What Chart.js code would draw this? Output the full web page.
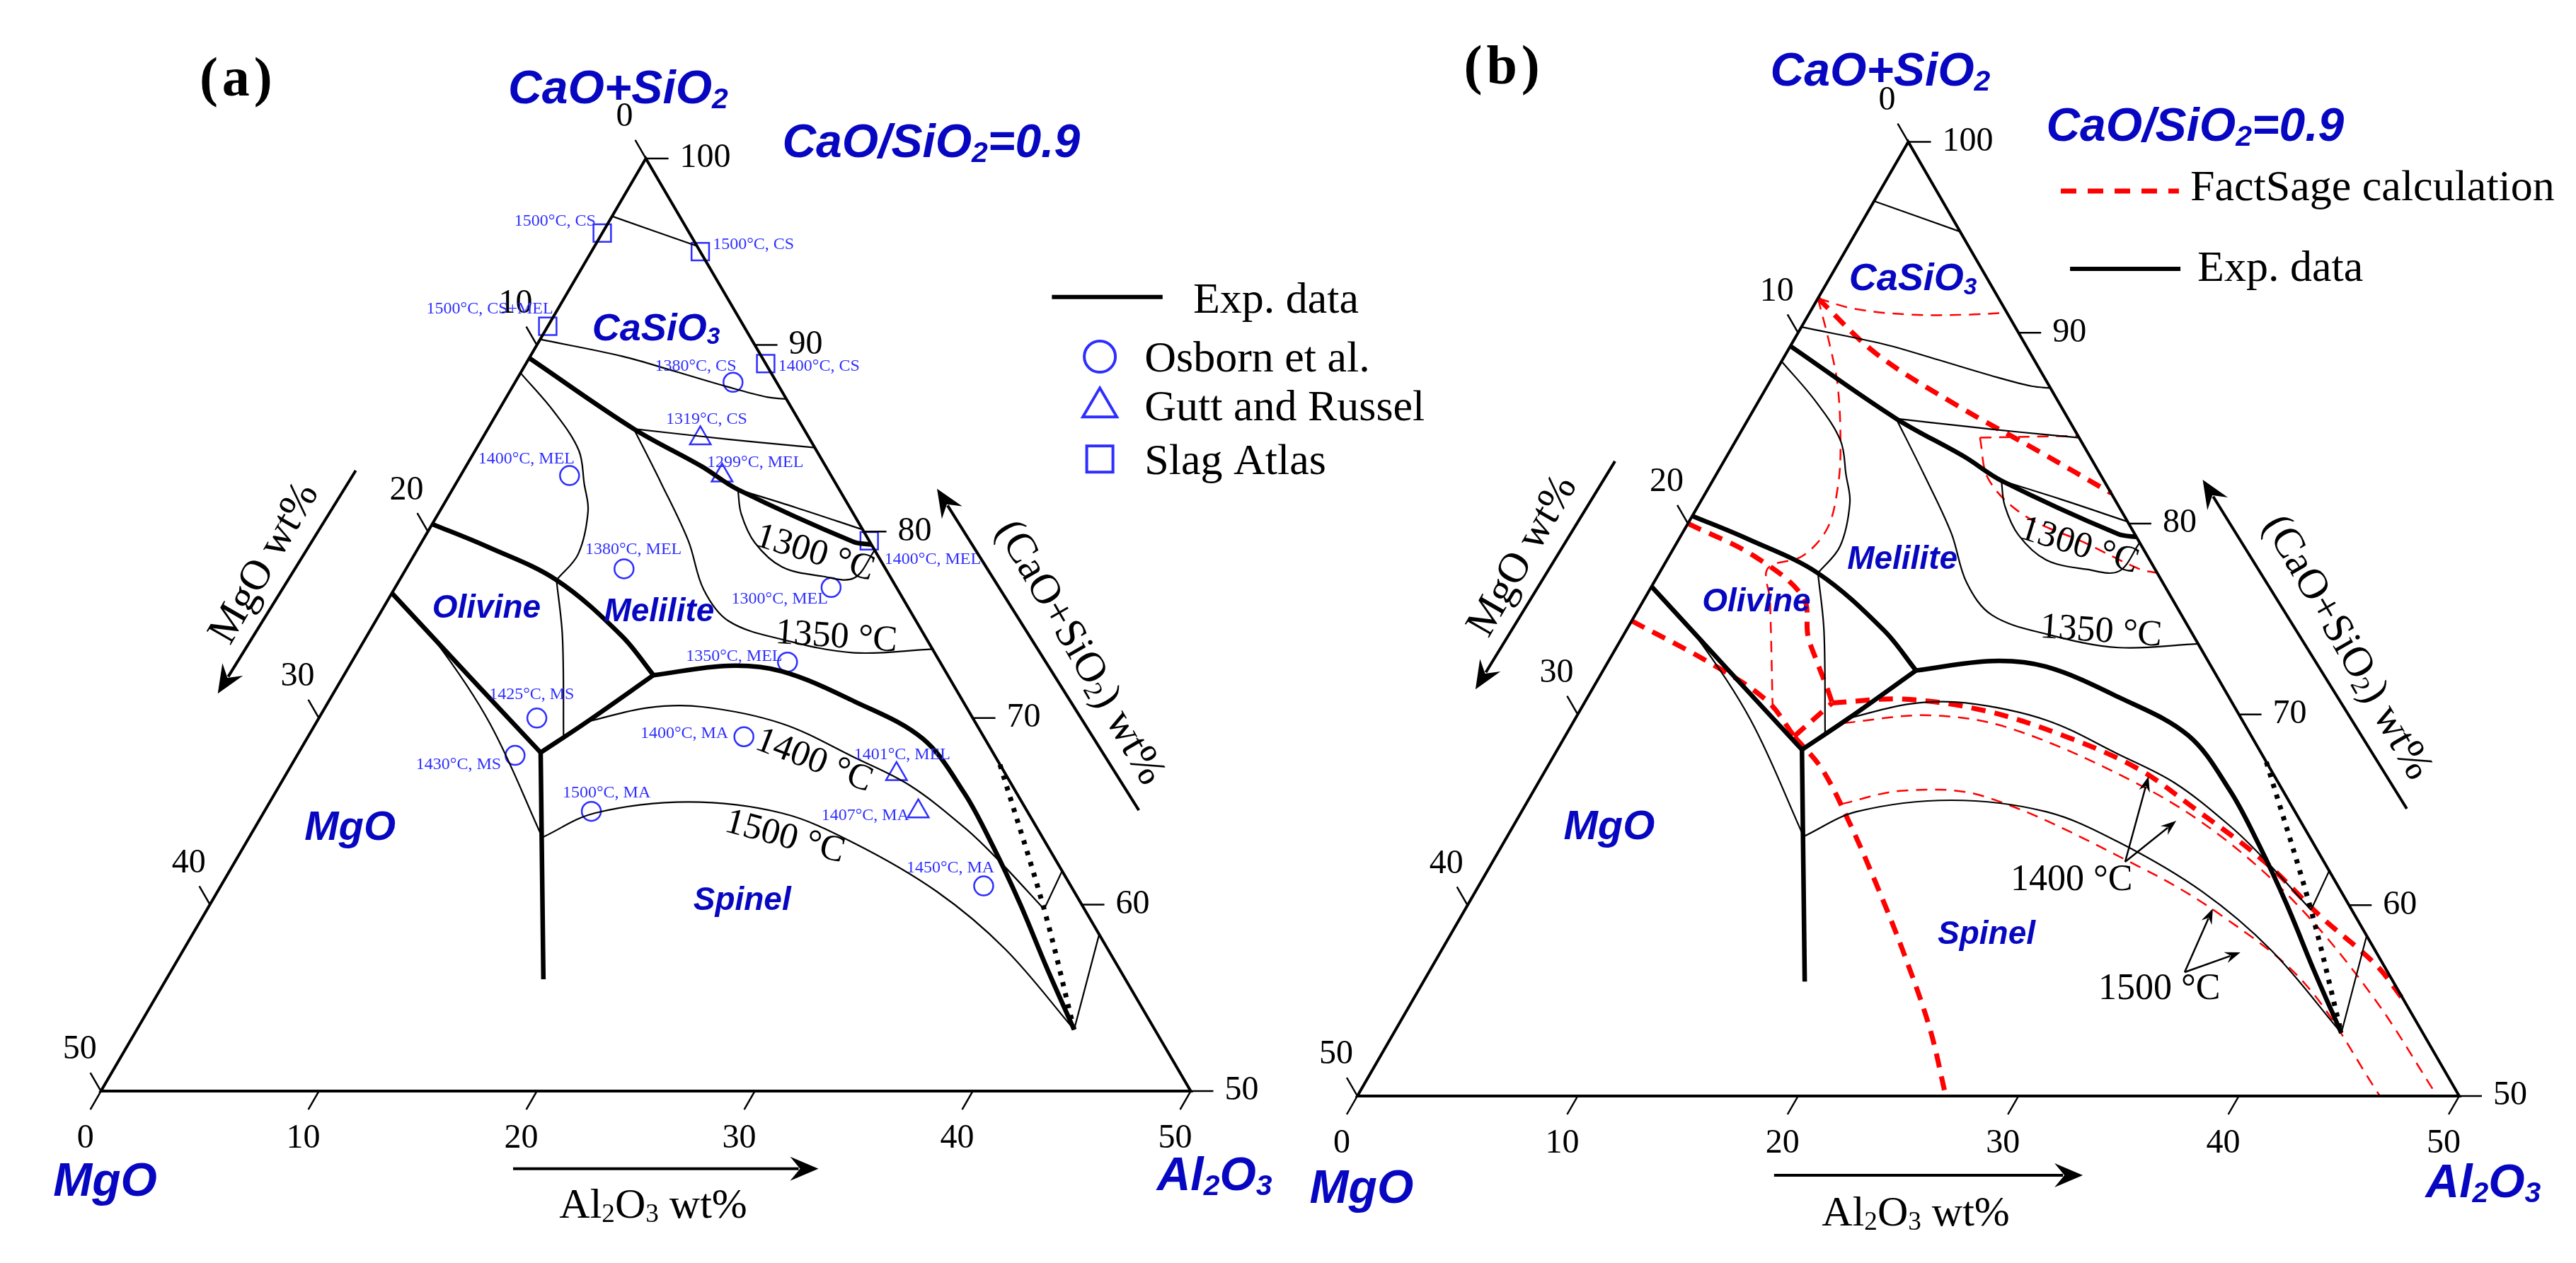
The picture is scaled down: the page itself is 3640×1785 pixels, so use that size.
<!DOCTYPE html>
<html>
<head>
<meta charset="utf-8">
<title>CaO-SiO2-MgO-Al2O3 liquidus, CaO/SiO2 = 0.9</title>
<script src="https://cdn.jsdelivr.net/npm/chart.js"></script>
<style>
  html, body { margin: 0; padding: 0; background: #fff; }
  #wrap { position: relative; width: 3640px; height: 1785px; }
  #wrap canvas { position: absolute; left: 0; top: 0; display: block; }
</style>
</head>
<body>
<div id="wrap">
  <canvas id="chartA" width="3640" height="1785"></canvas>
  <canvas id="chartB" width="3640" height="1785"></canvas>
</div>
<script>
// every point is [Al2O3 wt%, MgO wt%]; the rest is CaO+SiO2 (CaO/SiO2 = 0.9)
const sideTicks = [0, 10, 20, 30, 40, 50];
const rightTicks = [100, 90, 80, 70, 60, 50];

// experimental field boundaries (thick)
const csMel = [[0, 10.7], [6.7, 7.8], [10.8, 5.7], [13.1, 4.65], [19.8, 0.75], [20.7, 0]];
const olMel = [[0, 19.6], [3.1, 17.7], [7.2, 15.4], [11.7, 13.9], [14.2, 13.5]];
const olMgo = [[0, 23.3], [5.7, 22.0], [11.1, 20.75]];
const olSp = [[11.1, 20.75], [12.4, 17.8], [14.2, 13.5]];
const mgoSp = [[11.1, 20.75], [17.3, 26.7]];
const melSp = [[14.2, 13.5], [17.4, 9.8], [20.0, 7.5], [24.1, 5.0], [28.25, 2.85], [31.6, 2.4],
               [34.25, 2.5], [37.1, 2.8], [40.1, 3.3], [43.0, 3.7]];

// experimental isotherms and minor lines (thin)
const iso1500cs = [[0, 3.1], [4.7, 0]];
const iso1400cs = [[0, 9.7], [4.2, 6.4], [7.0, 4.4], [9.9, 2.35], [12.0, 0.8], [12.9, 0]];
const iso1319 = [[6.7, 7.8], [10.0, 4.9], [12.6, 2.6], [15.5, 0]];
const csEdge = [[13.1, 4.65], [16.2, 2.5], [19.9, 0]];
const iso1300 = [[13.1, 4.65], [13.9, 5.15], [15.3, 5.3], [17.2, 4.7], [19.3, 3.1], [20.8, 1.7], [21.0, 0]];
const iso1350 = [[6.7, 7.8], [9.4, 8.0], [12.2, 8.3], [14.2, 8.9], [16.2, 8.6], [19.2, 6.6], [22.8, 3.7], [26.3, 0]];
const iso1400mel = [[0, 11.5], [2.6, 11.0], [4.75, 10.9], [5.9, 11.55], [6.8, 12.1], [7.5, 13.7], [7.2, 15.4]];
const iso1400ol = [[7.2, 15.4], [9.0, 16.65], [11.75, 19.3]];
const isoMs = [[0, 23.3], [3.2, 22.6], [8.0, 22.3], [13.45, 22.95]];
const iso1500ma = [[13.45, 22.95], [15.2, 19.9], [19.2, 15.3], [23.8, 11.3], [27.9, 8.8], [33.0, 6.3], [37.7, 4.7], [43.0, 3.7]];
const iso1400ma = [[12.4, 17.8], [14.8, 14.65], [17.3, 12.1], [21.4, 8.9], [25.6, 6.5], [28.9, 4.7], [32.6, 3.3], [34.9, 2.65], [38.4, 1.85]];
const quadA = [[38.4, 1.85], [38.2, 0]];
const quadB = [[43.0, 3.7], [41.6, 0]];
const dottedExp = [[32.5, 0], [38.4, 1.85], [43.0, 3.7]];

// measured liquidus points
const osbornPts = [[10, 2], [5, 12], [10, 12], [20, 3], [20, 7], [10, 20], [10, 22], [20, 11], [15, 20], [35, 4]];
const osbornTxt = ['1380°C, CS', '1400°C, MEL', '1380°C, MEL', '1300°C, MEL', '1350°C, MEL',
                   '1425°C, MS', '1430°C, MS', '1400°C, MA', '1500°C, MA', '1450°C, MA'];
const guttPts = [[10, 5], [12, 5], [28, 5], [30, 5]];
const guttTxt = ['1319°C, CS', '1299°C, MEL', '1401°C, MEL', '1407°C, MA'];
const atlasPts = [[0, 4], [5, 0], [0, 9], [11, 0], [20.5, 0]];
const atlasTxt = ['1500°C, CS', '1500°C, CS', '1500°C, CS+MEL', '1400°C, CS', '1400°C, MEL'];

// FactSage calculation (panel b)
const fsCsMel = [[0, 8.2], [4.1, 7.0], [9.1, 4.7], [14.0, 2.2], [18.4, 0]];
const fsOlMel = [[0, 20], [3.85, 17.85], [7.15, 16.7], [8.4, 17.5], [9.4, 17.75], [10.65, 18.0], [11.25, 18.15]];
const fsOlMgo = [[0, 25.1], [4.85, 22.55], [8.25, 21.05], [10.4, 20.75]];
const fsJoin = [[10.4, 20.75], [11.25, 18.15]];
const fsOlSp = [[10.4, 20.75], [12.5, 20.35], [15.1, 20.5], [18.0, 20.9], [21.0, 21.45], [24.2, 22.25], [26.7, 23.3]];
const fsMelSp = [[11.25, 18.15], [14.35, 14.85], [18.35, 11.45], [22.7, 8.45], [26.85, 6.0], [30.4, 4.5],
                 [35.0, 2.7], [38.95, 1.6], [42.75, 0.35], [45.0, 0]];
const fsCs = [[0, 8.2], [1.95, 6.8], [4.65, 4.4], [7.25, 1.8], [8.95, 0]];
const fsCs2 = [[11.0, 4.5], [15.4, 0]];
const fs1300 = [[11.0, 4.5], [12.5, 5.2], [15.1, 4.5], [18.5, 2.5], [21.6, 0.75], [22.6, 0]];
const fsMel = [[0, 8.2], [1.8, 8.9], [3.2, 9.6], [4.9, 11.05], [5.85, 12.25], [6.45, 13.8], [6.05, 15.65],
               [4.8, 17.55], [5.75, 18.3], [8.8, 21.1]];
const fs1400 = [[12.3, 18.15], [16.0, 14.05], [20.05, 10.7], [27.25, 6.4], [32.4, 4.0], [37.8, 2.3], [43.6, 1.3], [49.0, 1.0]];
const fs1500 = [[14.3, 20.4], [16.75, 17.25], [20.6, 13.7], [29.4, 8.55], [34.5, 6.05], [40.1, 4.05], [46.4, 3.6]];

const thickExp = [csMel, olMel, olMgo, olSp, mgoSp, melSp];
const thinExp = [iso1500cs, iso1400cs, iso1319, csEdge, iso1300, iso1350, iso1400mel, iso1400ol,
                 isoMs, iso1500ma, iso1400ma, quadA, quadB];
const thickFs = [fsCsMel, fsOlMel, fsOlMgo, fsJoin, fsOlSp, fsMelSp];
const thinFs = [fsCs, fsCs2, fs1300, fsMel, fs1400, fs1500];

// ---------- look ----------
const NAVY = '#0707c2';
const MARK = '#2e2eff';
const RED = '#ff0000';
const SERIF = '"Liberation Serif", "Times New Roman", serif';
const SANS = '"Liberation Sans", Arial, sans-serif';
const UNIT = 1557 / 50;           // px per wt% along a side
const SQ = Math.sqrt(3) / 2;

function tern(p) { return { x: 25 + (p[0] - p[1]) / 2, y: (50 - p[0] - p[1]) * SQ }; }

function scalesFor(blx, bly) {
  return {
    x: { type: 'linear', display: false, min: -blx / UNIT, max: (3640 - blx) / UNIT },
    y: { type: 'linear', display: false, min: -(1785 - bly) / UNIT, max: bly / UNIT }
  };
}

function line(pts, w, color, dash) {
  return {
    data: pts.map(tern), showLine: true, borderColor: color, borderWidth: w,
    borderDash: dash || [], pointRadius: 0, pointHoverRadius: 0, tension: 0.35,
    fill: false, borderCapStyle: 'butt', borderJoinStyle: 'round'
  };
}

function marks(pts, style, r) {
  return {
    data: pts.map(tern), showLine: false, pointStyle: style, pointRadius: r, pointHoverRadius: r,
    pointBorderWidth: 2.5, pointBorderColor: MARK, pointBackgroundColor: 'rgba(255,255,255,0)'
  };
}

// text with "_x" = subscript x
function rich(ctx, str, x, y, size, family, style, align, base) {
  const parts = [];
  for (let i = 0; i < str.length; i++) {
    if (str[i] === '_') parts.push({ t: str[++i], sub: true });
    else if (parts.length && !parts[parts.length - 1].sub) parts[parts.length - 1].t += str[i];
    else parts.push({ t: str[i], sub: false });
  }
  let total = 0;
  for (const p of parts) {
    p.size = p.sub ? size * 0.62 : size;
    ctx.font = `${style} ${p.size}px ${family}`;
    p.w = ctx.measureText(p.t).width;
    total += p.w;
  }
  let cx = align === 'center' ? x - total / 2 : align === 'right' ? x - total : x;
  if (base === 'middle') y += size * 0.34;
  ctx.textAlign = 'left';
  ctx.textBaseline = 'alphabetic';
  for (const p of parts) {
    ctx.font = `${style} ${p.size}px ${family}`;
    ctx.fillText(p.t, cx, y + (p.sub ? size * 0.1 : 0));
    cx += p.w;
  }
}

function arrow(ctx, x0, y0, x1, y1, w, head, hw) {
  const a = Math.atan2(y1 - y0, x1 - x0), c = Math.cos(a), s = Math.sin(a);
  ctx.lineWidth = w;
  ctx.beginPath();
  ctx.moveTo(x0, y0);
  ctx.lineTo(x1 - c * head * 0.7, y1 - s * head * 0.7);
  ctx.stroke();
  ctx.beginPath();
  ctx.moveTo(x1, y1);
  ctx.lineTo(x1 - c * head + s * hw, y1 - s * head - c * hw);
  ctx.lineTo(x1 - c * head * 0.65, y1 - s * head * 0.65);
  ctx.lineTo(x1 - c * head - s * hw, y1 - s * head + c * hw);
  ctx.closePath();
  ctx.fill();
}

function shape(ctx, style, x, y, size, lw, color) {
  ctx.strokeStyle = color;
  ctx.lineWidth = lw;
  ctx.beginPath();
  if (style === 'circle') ctx.arc(x, y, size / 2, 0, Math.PI * 2);
  else if (style === 'rect') ctx.rect(x - size / 2, y - size / 2, size, size);
  else {
    const h = size * 0.85;
    ctx.moveTo(x, y - h * 0.6);
    ctx.lineTo(x + size / 2, y + h * 0.4);
    ctx.lineTo(x - size / 2, y + h * 0.4);
    ctx.closePath();
  }
  ctx.stroke();
}

// annotation places are plot units measured from the MgO corner of each triangle
const bigLabels = [
  { t: 'CaO+SiO_2', X: 23.73, Y: 45.86, size: 66, align: 'center' },
  { t: 'CaO/SiO_2=0.9', X: 31.26, Y: 43.35, size: 66, align: 'left' },
  { t: 'MgO', X: 0.19, Y: -4.85, size: 66, align: 'center' },
  { t: 'Al_2O_3', X: 51.09, Y: -4.6, size: 66, align: 'center' },
  { t: 'MgO', X: 11.43, Y: 11.67, size: 58, align: 'center' }
];
const axisTitles = [
  { t: 'MgO wt%', X: 7.39, Y: 24.57, rot: -60 },
  { t: '(CaO+SiO_2) wt%', X: 45.02, Y: 20.42, rot: 60 },
  { t: 'Al_2O_3 wt%', X: 25.34, Y: -5.87, rot: 0 }
];
const axisArrows = [
  [[11.69, 28.81], [5.36, 18.46]],
  [[47.62, 13.04], [38.36, 27.97]],
  [[18.91, -3.6], [32.92, -3.6]]
];
const isoCommon = [
  { t: '1300 °C', X: 32.79, Y: 25.08, rot: 17 },
  { t: '1350 °C', X: 33.75, Y: 21.19, rot: 4 }
];

const panelA = {
  title: { t: '(a)', X: 6.29, Y: 46.21 },
  fields: [
    { t: 'CaSiO_3', X: 25.47, Y: 34.87, size: 54 },
    { t: 'Olivine', X: 17.69, Y: 21.98, size: 46 },
    { t: 'Melilite', X: 25.61, Y: 21.8, size: 46 },
    { t: 'Spinel', X: 29.42, Y: 8.41, size: 46 }
  ],
  iso: [
    { t: '1400 °C', X: 32.76, Y: 15.45, rot: 21, align: 'center', base: 'middle' },
    { t: '1500 °C', X: 31.41, Y: 11.91, rot: 15, align: 'center', base: 'middle' }
  ],
  pointText: [
    ...osbornTxt.map((t, i) => ({ t, pos: [[25.42, 33.46], [17.31, 29.13], [22.22, 24.95], [28.93, 22.64], [26.84, 19.97],
      [17.81, 18.21], [18.36, 14.96], [24.75, 16.41], [21.18, 13.62], [36.96, 10.15]][i], right: i === 6 })),
    ...guttTxt.map((t, i) => ({ t, pos: [[25.92, 30.99], [27.81, 28.97], [34.55, 15.41], [37.09, 12.59]][i], right: i === 3 })),
    ...atlasTxt.map((t, i) => ({ t, pos: [[22.70, 40.17], [28.07, 39.08], [20.75, 36.09], [31.08, 33.46], [35.95, 24.49]][i],
      right: i === 0 || i === 2 }))
  ],
  legend: 'exp'
};

const panelB = {
  title: { t: '(b)', X: 6.65, Y: 45.95 },
  fields: [
    { t: 'CaSiO_3', X: 25.21, Y: 36.57, size: 54 },
    { t: 'Olivine', X: 18.11, Y: 21.99, size: 46 },
    { t: 'Melilite', X: 24.73, Y: 23.93, size: 46 },
    { t: 'Spinel', X: 28.55, Y: 6.89, size: 46 }
  ],
  iso: [
    { t: '1400 °C', X: 29.64, Y: 9.35, rot: 0, align: 'left', base: 'alphabetic' },
    { t: '1500 °C', X: 33.62, Y: 4.40, rot: 0, align: 'left', base: 'alphabetic' }
  ],
  pointers: [
    [[34.84, 10.63], [35.90, 14.51]], [[34.84, 10.63], [37.16, 12.49]],
    [[37.54, 5.62], [38.82, 8.51]], [[37.54, 5.62], [40.07, 6.52]]
  ],
  pointText: [],
  legend: 'fs'
};

function decor(panel) {
  return {
    id: 'decor',
    afterDatasetsDraw(chart) {
      const ctx = chart.ctx;
      const P = (X, Y) => [chart.scales.x.getPixelForValue(X), chart.scales.y.getPixelForValue(Y)];
      const T = p => { const q = tern(p); return P(q.x, q.y); };
      ctx.save();
      ctx.strokeStyle = '#000';
      ctx.fillStyle = '#000';
      ctx.lineCap = 'butt';

      // triangle frame
      const top = T([0, 0]), bl = T([0, 50]), br = T([50, 0]);
      ctx.lineWidth = 4;
      ctx.lineJoin = 'miter';
      ctx.beginPath();
      ctx.moveTo(top[0], top[1]); ctx.lineTo(bl[0], bl[1]); ctx.lineTo(br[0], br[1]); ctx.closePath();
      ctx.stroke();

      // ticks and tick labels
      ctx.lineWidth = 2.5;
      const tickFont = 48;
      for (const v of sideTicks) {
        let p = T([0, v]);
        ctx.beginPath(); ctx.moveTo(p[0], p[1]); ctx.lineTo(p[0] - 15, p[1] - 26); ctx.stroke();
        rich(ctx, String(v), p[0] - 30, p[1] - 62, tickFont, SERIF, '', 'center', 'middle');
        p = T([v, 50 - v]);
        ctx.beginPath(); ctx.moveTo(p[0], p[1]); ctx.lineTo(p[0] - 15, p[1] + 26); ctx.stroke();
        rich(ctx, String(v), p[0] - 22, p[1] + 64, tickFont, SERIF, '', 'center', 'middle');
      }
      for (const c of rightTicks) {
        const p = T([100 - c, 0]);
        ctx.beginPath(); ctx.moveTo(p[0], p[1]); ctx.lineTo(p[0] + 32, p[1]); ctx.stroke();
        rich(ctx, String(c), p[0] + 48, p[1] - 4, tickFont, SERIF, '', 'left', 'middle');
      }

      // axis arrows and titles
      for (const [a, b] of axisArrows) {
        const p0 = P(a[0], a[1]), p1 = P(b[0], b[1]);
        arrow(ctx, p0[0], p0[1], p1[0], p1[1], 4, 40, 17);
      }
      for (const it of axisTitles) {
        const p = P(it.X, it.Y);
        ctx.save(); ctx.translate(p[0], p[1]); ctx.rotate(it.rot * Math.PI / 180);
        rich(ctx, it.t, 0, 0, 60, SERIF, '', 'center', it.rot ? 'middle' : 'alphabetic');
        ctx.restore();
      }

      // panel title
      {
        const p = P(panel.title.X, panel.title.Y);
        if ('letterSpacing' in ctx) ctx.letterSpacing = '6px';
        rich(ctx, panel.title.t, p[0], p[1], 78, SERIF, 'bold', 'center', 'alphabetic');
        if ('letterSpacing' in ctx) ctx.letterSpacing = '0px';
      }

      // isotherm names
      for (const it of [...isoCommon.map(o => ({ ...o, align: 'center', base: 'middle' })), ...panel.iso]) {
        const p = P(it.X, it.Y);
        ctx.save(); ctx.translate(p[0], p[1]); ctx.rotate(it.rot * Math.PI / 180);
        rich(ctx, it.t, 0, 0, 52, SERIF, '', it.align, it.base);
        ctx.restore();
      }
      if (panel.pointers) {
        for (const [a, b] of panel.pointers) {
          const p0 = P(a[0], a[1]), p1 = P(b[0], b[1]);
          arrow(ctx, p0[0], p0[1], p1[0], p1[1], 2.5, 22, 8);
        }
      }

      // phase field names
      ctx.fillStyle = NAVY;
      for (const it of [...bigLabels, ...panel.fields]) {
        const p = P(it.X, it.Y);
        rich(ctx, it.t, p[0], p[1], it.size, SANS, 'italic bold', it.align || 'center', 'alphabetic');
      }

      // labels of measured points
      ctx.fillStyle = MARK;
      for (const it of panel.pointText) {
        const p = P(it.pos[0], it.pos[1]);
        rich(ctx, it.t, p[0], p[1], 24, SERIF, '', it.right ? 'right' : 'left', 'alphabetic');
      }

      // legend
      ctx.fillStyle = '#000';
      const legFont = 62;
      if (panel.legend === 'exp') {
        let a = P(43.63, 36.87), b = P(48.71, 36.87);
        ctx.strokeStyle = '#000'; ctx.lineWidth = 6;
        ctx.beginPath(); ctx.moveTo(a[0], a[1]); ctx.lineTo(b[0], b[1]); ctx.stroke();
        let t = P(50.11, 36.83);
        rich(ctx, 'Exp. data', t[0], t[1], legFont, SERIF, '', 'left', 'middle');
        const rows = [['circle', 34.10, 'Osborn et al.', 44], ['triangle', 31.84, 'Gutt and Russel', 48], ['rect', 29.35, 'Slag Atlas', 37]];
        for (const [st, y, txt, sz] of rows) {
          const m = P(45.83, y);
          shape(ctx, st, m[0], m[1], sz, 4, MARK);
          t = P(47.88, y);
          ctx.fillStyle = '#000';
          rich(ctx, txt, t[0], t[1], legFont, SERIF, '', 'left', 'middle');
        }
      } else {
        let a = P(31.92, 41.07), b = P(37.28, 41.07);
        ctx.strokeStyle = RED; ctx.lineWidth = 7; ctx.setLineDash([22, 16]);
        ctx.beginPath(); ctx.moveTo(a[0], a[1]); ctx.lineTo(b[0], b[1]); ctx.stroke();
        ctx.setLineDash([]);
        let t = P(37.8, 41.33);
        rich(ctx, 'FactSage calculation', t[0], t[1], legFont, SERIF, '', 'left', 'middle');
        a = P(32.34, 37.54); b = P(37.35, 37.54);
        ctx.strokeStyle = '#000'; ctx.lineWidth = 6;
        ctx.beginPath(); ctx.moveTo(a[0], a[1]); ctx.lineTo(b[0], b[1]); ctx.stroke();
        t = P(38.12, 37.67);
        rich(ctx, 'Exp. data', t[0], t[1], legFont, SERIF, '', 'left', 'middle');
      }
      ctx.restore();
    }
  };
}

function expLines() {
  return [
    ...thinExp.map(s => line(s, 2.2, '#000')),
    ...thickExp.map(s => line(s, 6.5, '#000')),
    line(dottedExp, 7, '#000', [6, 10])
  ];
}

function makeChart(id, blx, bly, datasets, panel) {
  return new Chart(document.getElementById(id), {
    type: 'line',
    data: { datasets },
    options: {
      responsive: false,
      animation: false,
      devicePixelRatio: 1,
      events: [],
      layout: { padding: 0 },
      scales: scalesFor(blx, bly),
      plugins: { legend: { display: false }, tooltip: { enabled: false } }
    },
    plugins: [decor(panel)]
  });
}

makeChart('chartA', 124, 1557, [
  ...expLines(),
  marks(osbornPts, 'circle', 13.5),
  marks(guttPts, 'triangle', 17),
  marks(atlasPts, 'rect', 17.5)
], panelA);

makeChart('chartB', 1918, 1549, [
  ...expLines(),
  ...thinFs.map(s => line(s, 2.5, RED, [16, 11])),
  ...thickFs.map(s => line(s, 7, RED, [20, 13]))
], panelB);
</script>
</body>
</html>
